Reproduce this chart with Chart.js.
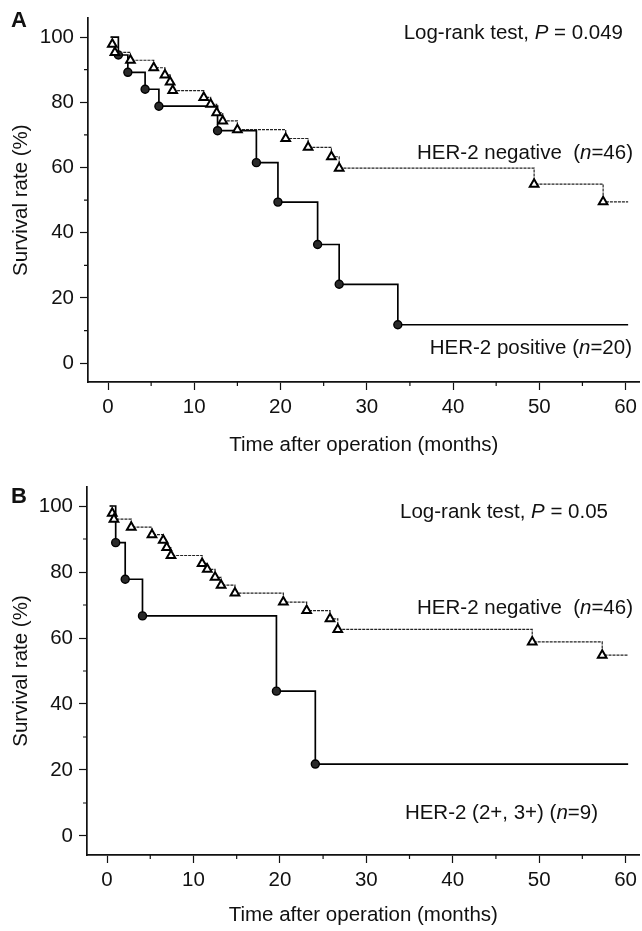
<!DOCTYPE html>
<html>
<head>
<meta charset="utf-8">
<script src="https://cdn.jsdelivr.net/npm/chart.js@4.4.1/dist/chart.umd.min.js"></script>
<style>
  html, body { margin: 0; padding: 0; background: #fff; }
  #wrap { position: relative; width: 642px; height: 931px; }
  canvas { position: absolute; left: 0; }
</style>
</head>
<body>
<div id="wrap">
  <canvas id="chart-a" width="642" height="465" style="top:0"></canvas>
  <canvas id="chart-b" width="642" height="466" style="top:465px"></canvas>
</div>
<script>
// Axes
const xTicks = [0, 10, 20, 30, 40, 50, 60];
const yTicks = [0, 20, 40, 60, 80, 100];
const xMinorTicks = [5, 15, 25, 35, 45, 55];
const yMinorTicks = [10, 30, 50, 70, 90];

// Panel A - HER-2 negative (n=46)
const aNegTime = [0.3, 0.5, 0.8, 2.6, 5.3, 6.6, 7.2, 7.5, 11.1, 11.9, 12.6, 13.3, 15.0, 20.6, 23.2, 25.9, 26.8, 49.4, 57.4, 60.3];
const aNegSurv = [100, 97.8, 95.3, 92.9, 90.6, 88.4, 86.2, 83.6, 81.5, 79.4, 76.8, 74.3, 71.6, 68.9, 66.2, 63.3, 59.8, 54.9, 49.5, 49.5];
// Panel A - HER-2 positive (n=20)
const aPosTime = [0.3, 1.2, 2.3, 4.3, 5.9, 12.7, 17.2, 19.7, 24.3, 26.8, 33.6, 60.3];
const aPosSurv = [100, 94.5, 89.2, 84.0, 78.8, 71.3, 61.5, 49.4, 36.4, 24.2, 11.8, 11.8];

// Panel B - HER-2 negative (n=46)
const bNegTime = [0.3, 0.6, 0.8, 2.8, 5.2, 6.5, 6.9, 7.4, 11.0, 11.6, 12.5, 13.2, 14.8, 20.4, 23.1, 25.8, 26.7, 49.2, 57.3, 60.3];
const bNegSurv = [100, 97.8, 96.0, 93.6, 91.3, 89.6, 87.4, 85.0, 82.6, 80.8, 78.4, 76.0, 73.6, 70.9, 68.3, 65.8, 62.6, 58.8, 54.8, 54.8];
// Panel B - HER-2 (2+, 3+) (n=9)
const bPosTime = [0.3, 1.0, 2.1, 4.1, 19.6, 24.1, 60.3];
const bPosSurv = [100, 88.9, 77.8, 66.7, 43.9, 21.8, 21.8];

const FONT = "'Liberation Sans', Arial, Helvetica, sans-serif";
const FONT_SIZE = 20.5;
const INK = '#111';

function toPoints(times, surv) {
    return times.map((t, i) => ({ x: t, y: surv[i] }));
}

// no marker on the first (start) and last (end of follow-up) points
function markerRadii(n, r) {
    return Array.from({ length: n }, (_, i) => (i === 0 || i === n - 1) ? 0 : r);
}

// draws a line of text made of [text, italic] pieces, right aligned
function drawRich(ctx, parts, right, y, size) {
    ctx.save();
    ctx.textBaseline = 'middle';
    ctx.fillStyle = INK;
    let total = 0;
    parts.forEach(p => {
        ctx.font = (p[1] ? 'italic ' : '') + size + 'px ' + FONT;
        total += ctx.measureText(p[0]).width;
    });
    let x = right - total;
    parts.forEach(p => {
        ctx.font = (p[1] ? 'italic ' : '') + size + 'px ' + FONT;
        ctx.fillText(p[0], x, y);
        x += ctx.measureText(p[0]).width;
    });
    ctx.restore();
}

const minorTicksPlugin = {
    id: 'minorTicks',
    afterDraw(chart) {
        const ctx = chart.ctx;
        const xs = chart.scales.x, ys = chart.scales.y;
        const area = chart.chartArea;
        ctx.save();
        ctx.strokeStyle = INK;
        ctx.lineWidth = 1.2;
        ctx.beginPath();
        xMinorTicks.forEach(v => {
            const px = xs.getPixelForValue(v);
            ctx.moveTo(px, area.bottom);
            ctx.lineTo(px, area.bottom + 4);
        });
        yMinorTicks.forEach(v => {
            const py = ys.getPixelForValue(v);
            ctx.moveTo(area.left, py);
            ctx.lineTo(area.left - 4, py);
        });
        ctx.stroke();
        ctx.restore();
    }
};

function makeLabelsPlugin(letter, letterY, notes) {
    return {
        id: 'labels',
        afterDraw(chart) {
            const ctx = chart.ctx;
            ctx.save();
            ctx.fillStyle = INK;
            ctx.font = 'bold 22px ' + FONT;
            ctx.textBaseline = 'middle';
            ctx.fillText(letter, 11, letterY);
            ctx.restore();
            notes.forEach(n => drawRich(ctx, n.parts, n.right, n.y, FONT_SIZE));
        }
    };
}

function createPanel(canvasId, cfg) {
    const ctx = document.getElementById(canvasId);
    const canvasH = ctx.height;
    return new Chart(ctx, {
        type: 'scatter',
        data: {
            datasets: [
                {
                    label: cfg.negLabel,
                    data: toPoints(cfg.negTime, cfg.negSurv),
                    showLine: true,
                    stepped: true,
                    borderColor: '#222',
                    borderWidth: 1.2,
                    borderDash: [3, 1],
                    pointStyle: 'triangle',
                    pointRadius: markerRadii(cfg.negTime.length, 5),
                    pointBackgroundColor: '#fff',
                    pointBorderColor: '#000',
                    pointBorderWidth: 2
                },
                {
                    label: cfg.posLabel,
                    data: toPoints(cfg.posTime, cfg.posSurv),
                    showLine: true,
                    stepped: true,
                    borderColor: '#000',
                    borderWidth: 1.7,
                    pointStyle: 'circle',
                    pointRadius: markerRadii(cfg.posTime.length, 4),
                    pointBackgroundColor: '#2a2a2a',
                    pointBorderColor: '#000',
                    pointBorderWidth: 1.4
                }
            ]
        },
        options: {
            responsive: false,
            animation: false,
            events: [],
            layout: {
                padding: { left: 0, right: 2, top: cfg.top, bottom: 0 }
            },
            scales: {
                x: {
                    type: 'linear',
                    min: -2.32,
                    max: 61.62,
                    afterBuildTicks: scale => { scale.ticks = xTicks.map(v => ({ value: v })); },
                    afterFit: scale => { scale.height = canvasH - cfg.bottom; },
                    grid: {
                        display: true,
                        drawOnChartArea: false,
                        drawTicks: true,
                        tickLength: 8,
                        tickColor: INK,
                        tickWidth: 1.2
                    },
                    border: { display: true, color: INK, width: 1.7 },
                    ticks: {
                        color: INK,
                        padding: 5,
                        maxRotation: 0,
                        font: { family: FONT, size: FONT_SIZE }
                    },
                    title: {
                        display: true,
                        text: 'Time after operation (months)',
                        color: INK,
                        font: { family: FONT, size: FONT_SIZE },
                        padding: { top: 0, bottom: cfg.xTitlePad }
                    }
                },
                y: {
                    type: 'linear',
                    min: -5.76,
                    max: 105.76,
                    afterBuildTicks: scale => { scale.ticks = yTicks.map(v => ({ value: v })); },
                    afterFit: scale => { scale.width = cfg.left; },
                    grid: {
                        display: true,
                        drawOnChartArea: false,
                        drawTicks: true,
                        tickLength: 8,
                        tickColor: INK,
                        tickWidth: 1.2
                    },
                    border: { display: true, color: INK, width: 1.7 },
                    ticks: {
                        color: INK,
                        padding: 6,
                        font: { family: FONT, size: FONT_SIZE }
                    },
                    title: {
                        display: true,
                        text: 'Survival rate (%)',
                        color: INK,
                        font: { family: FONT, size: FONT_SIZE },
                        padding: { top: 9, bottom: 0 }
                    }
                }
            },
            plugins: {
                legend: { display: false },
                tooltip: { enabled: false }
            }
        },
        plugins: [minorTicksPlugin, makeLabelsPlugin(cfg.letter, cfg.letterY, cfg.notes)]
    });
}

createPanel('chart-a', {
    letter: 'A', letterY: 21, top: 14, bottom: 382, left: 88, xTitlePad: 7,
    negTime: aNegTime, negSurv: aNegSurv, negLabel: 'HER-2 negative',
    posTime: aPosTime, posSurv: aPosSurv, posLabel: 'HER-2 positive',
    notes: [
        { parts: [['Log-rank test, ', false], ['P', true], [' = 0.049', false]], right: 623, y: 33 },
        { parts: [['HER-2 negative  (', false], ['n', true], ['=46)', false]], right: 633, y: 153 },
        { parts: [['HER-2 positive (', false], ['n', true], ['=20)', false]], right: 632, y: 348 }
    ]
});

createPanel('chart-b', {
    letter: 'B', letterY: 32, top: 22, bottom: 390, left: 87, xTitlePad: 3,
    negTime: bNegTime, negSurv: bNegSurv, negLabel: 'HER-2 negative',
    posTime: bPosTime, posSurv: bPosSurv, posLabel: 'HER-2 (2+, 3+)',
    notes: [
        { parts: [['Log-rank test, ', false], ['P', true], [' = 0.05', false]], right: 608, y: 47 },
        { parts: [['HER-2 negative  (', false], ['n', true], ['=46)', false]], right: 633, y: 143 },
        { parts: [['HER-2 (2+, 3+) (', false], ['n', true], ['=9)', false]], right: 598, y: 348 }
    ]
});
</script>
</body>
</html>
